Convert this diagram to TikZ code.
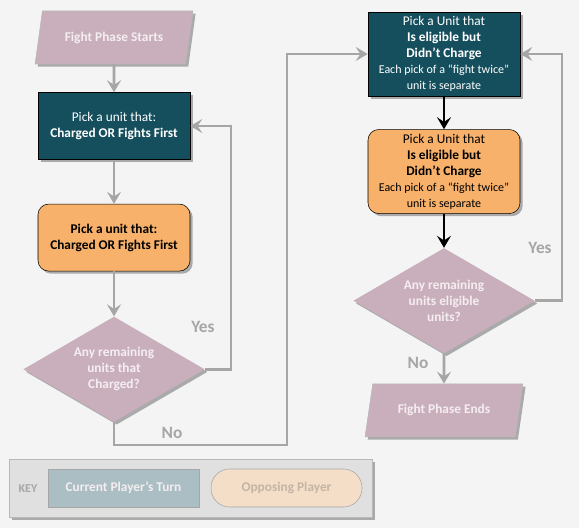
\documentclass[tikz,border=0pt]{standalone}
\usepackage{fontspec}
\setmainfont{Carlito}
\usetikzlibrary{positioning,arrows.meta,shapes.geometric,shadows}
\definecolor{PageGrey}{RGB}{244,244,244}
\definecolor{TurnTeal}{RGB}{21,79,93}
\definecolor{OppOrange}{RGB}{247,177,106}
\definecolor{PhaseMauve}{RGB}{201,175,188}
\definecolor{PhaseText}{RGB}{245,238,241}
\definecolor{LineGrey}{RGB}{166,166,166}
\definecolor{KeyGrey}{RGB}{224,224,224}
\definecolor{FadedTeal}{RGB}{170,190,195}
\definecolor{FadedOrange}{RGB}{244,222,200}
\definecolor{FadedText}{RGB}{196,180,164}
\tikzset{
  flow/.style={-{Stealth[length=9pt,width=10.5pt,inset=3.5pt]},line width=2pt,draw=LineGrey},
  darkflow/.style={-{Stealth[length=9pt,width=10.5pt,inset=3.5pt]},line width=2.2pt,draw=black},
  softshadow/.style={drop shadow={shadow xshift=2pt,shadow yshift=-2pt,opacity=0.3,fill=black}},
  turnbox/.style={draw=black,fill=TurnTeal,text=white,minimum width=114pt,
    inner sep=2pt,align=center,font=\fontsize{10}{12}\selectfont,softshadow},
  oppbox/.style={draw=black,fill=OppOrange,text=black,rounded corners=8pt,minimum width=114pt,
    inner sep=2pt,align=center,font=\fontsize{10}{12}\selectfont,softshadow},
  phase/.style={trapezium,trapezium left angle=75,trapezium right angle=105,
    trapezium stretches=true,draw=LineGrey!80,fill=PhaseMauve,text=PhaseText,
    minimum width=119.25pt,minimum height=39.75pt,font=\fontsize{10}{12}\selectfont\bfseries,softshadow},
  query/.style={diamond,aspect=1.7,fill=PhaseMauve,text=PhaseText,inner sep=0pt,
    minimum width=136pt,minimum height=79pt,align=center,
    font=\fontsize{10}{12}\selectfont\bfseries,softshadow},
  answer/.style={text=LineGrey,font=\fontsize{13}{15}\selectfont\bfseries},
  keybox/.style={minimum width=113.25pt,minimum height=28.5pt,draw=LineGrey,
    font=\fontsize{10}{12}\selectfont\bfseries}
}

\begin{document}
\begin{tikzpicture}[x=0.75pt,y=-0.75pt]
  \path[use as bounding box,fill=PageGrey] (0,0) rectangle (579,528);

  % key
  \node[draw=LineGrey!80,fill=KeyGrey,minimum width=272.25pt,minimum height=43.5pt,softshadow] (key) at (190.5,488) {};
  \node[text=LineGrey,font=\fontsize{9}{11}\selectfont\bfseries] (keylabel) at (28,489) {KEY};
  \node[keybox,fill=FadedTeal,text=PhaseText] (current) at (123.5,488) {Current Player’s Turn};
  \node[keybox,fill=FadedOrange,text=FadedText,rounded corners=14pt] (opposing) at (286.5,488) {Opposing Player};

  % charged units first
  \node[phase] (start) at (114,37.5) {Fight Phase Starts};
  \node[turnbox,below=21pt of start,minimum height=50.25pt] (pickfirst) {Pick a unit that:\\\textbf{Charged OR Fights First}};
  \node[oppbox,below=33pt of pickfirst,minimum height=50.25pt,font=\fontsize{10}{12}\selectfont\bfseries] (oppfirst) {Pick a unit that:\\Charged OR Fights First};
  \node[query,below=33.75pt of oppfirst] (anycharged) {Any remaining\\units that\\Charged?};
  \draw[flow] (start) -- (pickfirst);
  \draw[flow] (pickfirst) -- (oppfirst);
  \draw[flow] (oppfirst) -- (anycharged);
  \draw[flow] (anycharged.east) -- ++(26,0) |- (pickfirst.east);
  \node[answer] (yesfirst) at (203,327) {Yes};

  % remaining units
  \coordinate (nocorner) at (287,445);
  \node[turnbox,minimum height=63pt] (pickrest) at (444,54) {Pick a Unit that\\\textbf{Is eligible but}\\\textbf{Didn’t Charge}\\{\fontsize{9}{10.5}\selectfont Each pick of a “fight twice”}\\{\fontsize{9}{10.5}\selectfont unit is separate}};
  \node[oppbox,below=24.75pt of pickrest,minimum height=63pt] (opprest) {Pick a Unit that\\\textbf{Is eligible but}\\\textbf{Didn’t Charge}\\{\fontsize{9}{10.5}\selectfont Each pick of a “fight twice”}\\{\fontsize{9}{10.5}\selectfont unit is separate}};
  \node[query,below=25.5pt of opprest] (anyeligible) {Any remaining\\units eligible\\units?};
  \node[phase,below=22.5pt of anyeligible] (finish) {Fight Phase Ends};
  \draw[flow] (anycharged.south) |- (nocorner) |- (pickrest.west);
  \node[answer] (nofirst) at (172,433) {No};
  \draw[darkflow] (pickrest) -- (opprest);
  \draw[darkflow] (opprest) -- (anyeligible);
  \draw[flow] (anyeligible.east) -- ++(27,0) |- (pickrest.east);
  \node[answer] (yesrest) at (540,248) {Yes};
  \draw[flow] (anyeligible) -- (finish);
  \node[answer] (norest) at (418,363) {No};
\end{tikzpicture}
\end{document}
